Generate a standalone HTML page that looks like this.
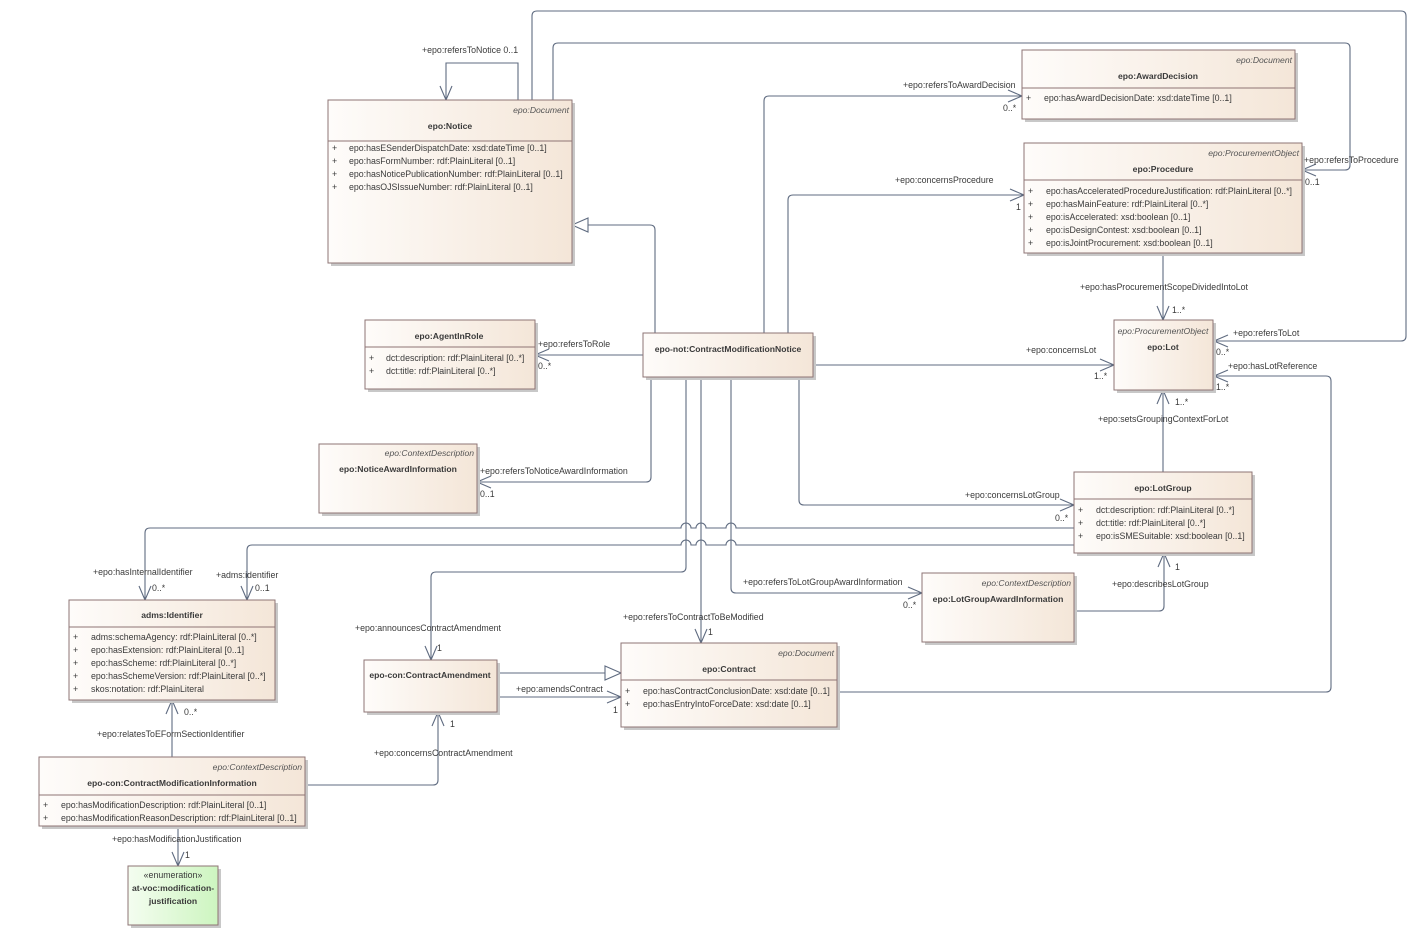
<!DOCTYPE html>
<html><head><meta charset="utf-8"><style>
html,body{margin:0;padding:0;background:#fff;}
svg{display:block;font-family:"Liberation Sans",sans-serif;}
.t{font-size:8.8px;fill:#3a3a3a;}
.b{font-size:8.6px;font-weight:bold;fill:#3a3a3a;}
.i{font-size:8.6px;font-style:italic;fill:#555;}
.l{fill:none;stroke:#5f6b80;stroke-width:1.1;}
.bx{fill:url(#g);stroke:#8e7474;stroke-width:1;}
.sh{fill:#c8c8c8;}
.dv{stroke:#8e7474;stroke-width:1;}
</style></head><body>
<svg width="1416" height="935" viewBox="0 0 1416 935" xmlns="http://www.w3.org/2000/svg">
<defs>
<linearGradient id="g" x1="0" x2="1" y1="0" y2="0"><stop offset="0" stop-color="#fefcfa"/><stop offset="1" stop-color="#f4e6d8"/></linearGradient>
<linearGradient id="gg" x1="0" x2="1" y1="0" y2="0"><stop offset="0" stop-color="#f4fdf0"/><stop offset="1" stop-color="#cdf5c0"/></linearGradient>
</defs>

<g class="l">
<path d="M518,100 V63 H446 V100"/><path d="M440,86 L446,100 L452,86"/>
<path d="M532,100 V16 Q532,11 537,11 H1401 Q1406,11 1406,16 V336 Q1406,341 1401,341 H1214"/>
<path d="M1228,335 L1214,341 L1228,347"/>
<path d="M553,100 V48 Q553,43 558,43 H1345 Q1350,43 1350,48 V165 Q1350,170 1345,170 H1302"/>
<path d="M1316,164 L1302,170 L1316,176"/>
<path d="M655,333 V230 Q655,225 650,225 H588"/>
<path d="M588,218 L572,225 L588,232 Z" fill="#fff"/>
<path d="M764,333 V101 Q764,96 769,96 H1022"/><path d="M1008,90 L1022,96 L1008,102"/>
<path d="M788,333 V200 Q788,195 793,195 H1024"/><path d="M1010,189 L1024,195 L1010,201"/>
<path d="M643,355 H535"/><path d="M549,349 L535,355 L549,361"/>
<path d="M813,365 H1114"/><path d="M1100,359 L1114,365 L1100,371"/>
<path d="M1163,253 V320"/><path d="M1157,306 L1163,320 L1169,306"/>
<path d="M1163,472 V390"/><path d="M1157,404 L1163,390 L1169,404"/>
<path d="M799,377 V500 Q799,505 804,505 H1074"/><path d="M1060,499 L1074,505 L1060,511"/>
<path d="M651,377 V477 Q651,482 646,482 H477"/><path d="M491,476 L477,482 L491,488"/>
<path d="M1074,528 H736 A5,5 0 0 0 726,528 H706 A5,5 0 0 0 696,528 H691 A5,5 0 0 0 681,528 H150 Q145,528 145,533 V600"/>
<path d="M139,586 L145,600 L151,586"/>
<path d="M1074,545 H736 A5,5 0 0 0 726,545 H706 A5,5 0 0 0 696,545 H691 A5,5 0 0 0 681,545 H252 Q247,545 247,550 V600"/>
<path d="M241,586 L247,600 L253,586"/>
<path d="M686,377 V567 Q686,572 681,572 H436 Q431,572 431,577 V660"/>
<path d="M425,646 L431,660 L437,646"/>
<path d="M701,377 V643"/><path d="M695,629 L701,643 L707,629"/>
<path d="M731,377 V588 Q731,593 736,593 H922"/><path d="M908,587 L922,593 L908,599"/>
<path d="M1074,611 H1159 Q1164,611 1164,606 V553"/><path d="M1158,567 L1164,553 L1170,567"/>
<path d="M497,673 H605"/><path d="M605,666 L621,673 L605,680 Z" fill="#fff"/>
<path d="M497,697 H621"/><path d="M607,691 L621,697 L607,703"/>
<path d="M837,692 H1326 Q1331,692 1331,687 V381 Q1331,376 1326,376 H1214"/>
<path d="M1228,370 L1214,376 L1228,382"/>
<path d="M308,785 H433 Q438,785 438,780 V712"/><path d="M432,726 L438,712 L444,726"/>
<path d="M172,757 V700"/><path d="M166,714 L172,700 L178,714"/>
<path d="M178,826 V866"/><path d="M172,852 L178,866 L184,852"/>
</g>

<g>
<rect class="sh" x="331" y="103" width="244" height="163"/>
<rect class="bx" x="328" y="100" width="244" height="163"/>
<line class="dv" x1="328" y1="141" x2="572" y2="141"/>
<text class="i" x="569" y="113" text-anchor="end">epo:Document</text>
<text class="b" x="450" y="129" text-anchor="middle">epo:Notice</text>
<text class="t" x="332" y="151">+</text><text class="t" x="349" y="151">epo:hasESenderDispatchDate: xsd:dateTime [0..1]</text>
<text class="t" x="332" y="164">+</text><text class="t" x="349" y="164">epo:hasFormNumber: rdf:PlainLiteral [0..1]</text>
<text class="t" x="332" y="177">+</text><text class="t" x="349" y="177">epo:hasNoticePublicationNumber: rdf:PlainLiteral [0..1]</text>
<text class="t" x="332" y="190">+</text><text class="t" x="349" y="190">epo:hasOJSIssueNumber: rdf:PlainLiteral [0..1]</text>

<rect class="sh" x="1025" y="53" width="273" height="69"/>
<rect class="bx" x="1022" y="50" width="273" height="69"/>
<line class="dv" x1="1022" y1="88" x2="1295" y2="88"/>
<text class="i" x="1292" y="63" text-anchor="end">epo:Document</text>
<text class="b" x="1158" y="79" text-anchor="middle">epo:AwardDecision</text>
<text class="t" x="1026" y="101">+</text><text class="t" x="1044" y="101">epo:hasAwardDecisionDate: xsd:dateTime [0..1]</text>

<rect class="sh" x="1027" y="146" width="278" height="110"/>
<rect class="bx" x="1024" y="143" width="278" height="110"/>
<line class="dv" x1="1024" y1="180" x2="1302" y2="180"/>
<text class="i" x="1299" y="156" text-anchor="end">epo:ProcurementObject</text>
<text class="b" x="1163" y="172" text-anchor="middle">epo:Procedure</text>
<text class="t" x="1028" y="194">+</text><text class="t" x="1046" y="194">epo:hasAcceleratedProcedureJustification: rdf:PlainLiteral [0..*]</text>
<text class="t" x="1028" y="207">+</text><text class="t" x="1046" y="207">epo:hasMainFeature: rdf:PlainLiteral [0..*]</text>
<text class="t" x="1028" y="220">+</text><text class="t" x="1046" y="220">epo:isAccelerated: xsd:boolean [0..1]</text>
<text class="t" x="1028" y="233">+</text><text class="t" x="1046" y="233">epo:isDesignContest: xsd:boolean [0..1]</text>
<text class="t" x="1028" y="246">+</text><text class="t" x="1046" y="246">epo:isJointProcurement: xsd:boolean [0..1]</text>

<rect class="sh" x="1117" y="323" width="99" height="70"/>
<rect class="bx" x="1114" y="320" width="99" height="70"/>
<text class="i" x="1163" y="334" text-anchor="middle">epo:ProcurementObject</text>
<text class="b" x="1163" y="350" text-anchor="middle">epo:Lot</text>

<rect class="sh" x="368" y="323" width="170" height="69"/>
<rect class="bx" x="365" y="320" width="170" height="69"/>
<line class="dv" x1="365" y1="347" x2="535" y2="347"/>
<text class="b" x="449" y="339" text-anchor="middle">epo:AgentInRole</text>
<text class="t" x="369" y="361">+</text><text class="t" x="386" y="361">dct:description: rdf:PlainLiteral [0..*]</text>
<text class="t" x="369" y="374">+</text><text class="t" x="386" y="374">dct:title: rdf:PlainLiteral [0..*]</text>

<rect class="sh" x="646" y="336" width="170" height="44"/>
<rect class="bx" x="643" y="333" width="170" height="44"/>
<text class="b" x="728" y="352" text-anchor="middle">epo-not:ContractModificationNotice</text>

<rect class="sh" x="322" y="447" width="158" height="69"/>
<rect class="bx" x="319" y="444" width="158" height="69"/>
<text class="i" x="474" y="456" text-anchor="end">epo:ContextDescription</text>
<text class="b" x="398" y="472" text-anchor="middle">epo:NoticeAwardInformation</text>

<rect class="sh" x="1077" y="475" width="178" height="81"/>
<rect class="bx" x="1074" y="472" width="178" height="81"/>
<line class="dv" x1="1074" y1="499" x2="1252" y2="499"/>
<text class="b" x="1163" y="491" text-anchor="middle">epo:LotGroup</text>
<text class="t" x="1078" y="513">+</text><text class="t" x="1096" y="513">dct:description: rdf:PlainLiteral [0..*]</text>
<text class="t" x="1078" y="526">+</text><text class="t" x="1096" y="526">dct:title: rdf:PlainLiteral [0..*]</text>
<text class="t" x="1078" y="539">+</text><text class="t" x="1096" y="539">epo:isSMESuitable: xsd:boolean [0..1]</text>

<rect class="sh" x="72" y="603" width="206" height="100"/>
<rect class="bx" x="69" y="600" width="206" height="100"/>
<line class="dv" x1="69" y1="627" x2="275" y2="627"/>
<text class="b" x="172" y="618" text-anchor="middle">adms:Identifier</text>
<text class="t" x="73" y="640">+</text><text class="t" x="91" y="640">adms:schemaAgency: rdf:PlainLiteral [0..*]</text>
<text class="t" x="73" y="653">+</text><text class="t" x="91" y="653">epo:hasExtension: rdf:PlainLiteral [0..1]</text>
<text class="t" x="73" y="666">+</text><text class="t" x="91" y="666">epo:hasScheme: rdf:PlainLiteral [0..*]</text>
<text class="t" x="73" y="679">+</text><text class="t" x="91" y="679">epo:hasSchemeVersion: rdf:PlainLiteral [0..*]</text>
<text class="t" x="73" y="692">+</text><text class="t" x="91" y="692">skos:notation: rdf:PlainLiteral</text>

<rect class="sh" x="925" y="576" width="152" height="69"/>
<rect class="bx" x="922" y="573" width="152" height="69"/>
<text class="i" x="1071" y="586" text-anchor="end">epo:ContextDescription</text>
<text class="b" x="998" y="602" text-anchor="middle">epo:LotGroupAwardInformation</text>

<rect class="sh" x="367" y="663" width="133" height="52"/>
<rect class="bx" x="364" y="660" width="133" height="52"/>
<text class="b" x="430" y="678" text-anchor="middle">epo-con:ContractAmendment</text>

<rect class="sh" x="624" y="646" width="216" height="84"/>
<rect class="bx" x="621" y="643" width="216" height="84"/>
<line class="dv" x1="621" y1="680" x2="837" y2="680"/>
<text class="i" x="834" y="656" text-anchor="end">epo:Document</text>
<text class="b" x="729" y="672" text-anchor="middle">epo:Contract</text>
<text class="t" x="625" y="694">+</text><text class="t" x="643" y="694">epo:hasContractConclusionDate: xsd:date [0..1]</text>
<text class="t" x="625" y="707">+</text><text class="t" x="643" y="707">epo:hasEntryIntoForceDate: xsd:date [0..1]</text>

<rect class="sh" x="42" y="760" width="266" height="69"/>
<rect class="bx" x="39" y="757" width="266" height="69"/>
<line class="dv" x1="39" y1="795" x2="305" y2="795"/>
<text class="i" x="302" y="770" text-anchor="end">epo:ContextDescription</text>
<text class="b" x="172" y="786" text-anchor="middle">epo-con:ContractModificationInformation</text>
<text class="t" x="43" y="808">+</text><text class="t" x="61" y="808">epo:hasModificationDescription: rdf:PlainLiteral [0..1]</text>
<text class="t" x="43" y="821">+</text><text class="t" x="61" y="821">epo:hasModificationReasonDescription: rdf:PlainLiteral [0..1]</text>

<rect class="sh" x="131" y="869" width="90" height="59"/>
<rect x="128" y="866" width="90" height="59" fill="url(#gg)" stroke="#8e7474"/>
<text class="t" x="173" y="878" text-anchor="middle">«enumeration»</text>
<text class="b" x="173" y="891" text-anchor="middle">at-voc:modification-</text>
<text class="b" x="173" y="904" text-anchor="middle">justification</text>
</g>

<g class="t">
<text x="422" y="53">+epo:refersToNotice 0..1</text>
<text x="903" y="88">+epo:refersToAwardDecision</text>
<text x="1003" y="111">0..*</text>
<text x="895" y="183">+epo:concernsProcedure</text>
<text x="1016" y="210">1</text>
<text x="1304" y="163">+epo:refersToProcedure</text>
<text x="1305" y="185">0..1</text>
<text x="1080" y="290">+epo:hasProcurementScopeDividedIntoLot</text>
<text x="1172" y="313">1..*</text>
<text x="1233" y="336">+epo:refersToLot</text>
<text x="1216" y="355">0..*</text>
<text x="1228" y="369">+epo:hasLotReference</text>
<text x="1216" y="390">1..*</text>
<text x="1026" y="353">+epo:concernsLot</text>
<text x="1094" y="379">1..*</text>
<text x="538" y="347">+epo:refersToRole</text>
<text x="538" y="369">0..*</text>
<text x="1175" y="405">1..*</text>
<text x="1098" y="422">+epo:setsGroupingContextForLot</text>
<text x="480" y="474">+epo:refersToNoticeAwardInformation</text>
<text x="480" y="497">0..1</text>
<text x="965" y="498">+epo:concernsLotGroup</text>
<text x="1055" y="521">0..*</text>
<text x="93" y="575">+epo:hasInternalIdentifier</text>
<text x="152" y="591">0..*</text>
<text x="216" y="578">+adms:identifier</text>
<text x="255" y="591">0..1</text>
<text x="743" y="585">+epo:refersToLotGroupAwardInformation</text>
<text x="903" y="608">0..*</text>
<text x="1175" y="570">1</text>
<text x="1112" y="587">+epo:describesLotGroup</text>
<text x="355" y="631">+epo:announcesContractAmendment</text>
<text x="437" y="651">1</text>
<text x="623" y="620">+epo:refersToContractToBeModified</text>
<text x="708" y="635">1</text>
<text x="516" y="692">+epo:amendsContract</text>
<text x="613" y="713">1</text>
<text x="450" y="727">1</text>
<text x="374" y="756">+epo:concernsContractAmendment</text>
<text x="184" y="715">0..*</text>
<text x="97" y="737">+epo:relatesToEFormSectionIdentifier</text>
<text x="112" y="842">+epo:hasModificationJustification</text>
<text x="185" y="858">1</text>
</g>
</svg>
</body></html>
